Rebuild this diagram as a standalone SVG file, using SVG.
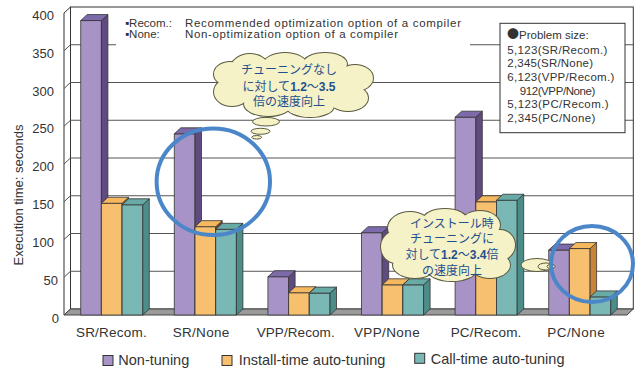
<svg xmlns="http://www.w3.org/2000/svg" width="638" height="370" viewBox="0 0 638 370">
  <style>
    .wall { fill: #ffffff; stroke: #333333; stroke-width: 1; }
    .grid { stroke: #555555; stroke-width: 1; fill: none; }
    .floor { fill: #9a9a9a; stroke: #444444; stroke-width: 1; }
    .edge { stroke: #333333; stroke-width: 0.8; stroke-linejoin: round; }
    .p-front { fill: #a893c7; }
    .p-side { fill: #5f4b80; }
    .p-top { fill: #7d6aab; }
    .o-front { fill: #f7c06f; }
    .o-side { fill: #c9843a; }
    .o-top { fill: #f5b85e; }
    .t-front { fill: #79b8b4; }
    .t-side { fill: #4d8d89; }
    .t-top { fill: #68aaa6; }
    .axis { font-family: "Liberation Sans", Arial, sans-serif; font-size: 13px; fill: #333333; }
    .cat { font-family: "Liberation Sans", Arial, sans-serif; font-size: 13.5px; fill: #333333; text-anchor: middle; }
    .legend { font-family: "Liberation Sans", Arial, sans-serif; font-size: 14.5px; fill: #333333; }
    .note { font-family: "Liberation Sans", Arial, sans-serif; font-size: 11.5px; fill: #333333; }
    .box { font-family: "Liberation Sans", Arial, sans-serif; font-size: 11.5px; fill: #333333; }
    .dot { font-family: "Noto Sans CJK JP", sans-serif; font-size: 12px; }
    .cloud-line { fill: #f4f2c6; stroke: #5a5a40; stroke-width: 2; }
    .cloud-fill { fill: #f4f2c6; }
    .bubble { fill: #f4f2c6; stroke: #5a5a40; stroke-width: 1; }
    .ctext { font-family: "Noto Sans CJK JP", "Liberation Sans", sans-serif; font-size: 12px; fill: #1f4f8f; text-anchor: middle; }
    .ctext .num { font-family: "Liberation Sans", Arial, sans-serif; font-weight: bold; }
    .ring { fill: none; stroke: #4a86c8; stroke-width: 4; }
  </style>

  <!-- chart frame: back wall, left wall, gridlines -->
  <g id="frame">
    <rect class="wall" x="70.5" y="7" width="562.8" height="302"/>
    <polygon class="wall" points="64,13 70.5,7 70.5,309 64,315"/>
    <g class="grid">
      <line x1="70.5" y1="271.25" x2="633.3" y2="271.25"/>
      <line x1="70.5" y1="233.5" x2="633.3" y2="233.5"/>
      <line x1="70.5" y1="195.75" x2="633.3" y2="195.75"/>
      <line x1="70.5" y1="158" x2="633.3" y2="158"/>
      <line x1="70.5" y1="120.25" x2="633.3" y2="120.25"/>
      <line x1="70.5" y1="82.5" x2="633.3" y2="82.5"/>
      <line x1="70.5" y1="44.75" x2="633.3" y2="44.75"/>
      <line x1="64" y1="277.25" x2="70.5" y2="271.25"/>
      <line x1="64" y1="239.5" x2="70.5" y2="233.5"/>
      <line x1="64" y1="201.75" x2="70.5" y2="195.75"/>
      <line x1="64" y1="164" x2="70.5" y2="158"/>
      <line x1="64" y1="126.25" x2="70.5" y2="120.25"/>
      <line x1="64" y1="88.5" x2="70.5" y2="82.5"/>
      <line x1="64" y1="50.75" x2="70.5" y2="44.75"/>
    </g>
    <polygon class="floor" points="64,315 627,315 633.3,309 70.5,309"/>
  </g>

  <!-- y axis -->
  <g id="y-axis" class="axis">
    <text x="54" y="19.7" text-anchor="end">400</text>
    <text x="54" y="57.6" text-anchor="end">350</text>
    <text x="54" y="95.5" text-anchor="end">300</text>
    <text x="54" y="133.4" text-anchor="end">250</text>
    <text x="54" y="171.3" text-anchor="end">200</text>
    <text x="54" y="209.2" text-anchor="end">150</text>
    <text x="54" y="247.1" text-anchor="end">100</text>
    <text x="58" y="285" text-anchor="end">50</text>
    <text x="59" y="322.9" text-anchor="end">0</text>
    <text transform="translate(23,195) rotate(-90)" text-anchor="middle">Execution time: seconds</text>
  </g>

  <!-- bars -->
  <g id="bars" class="edge">
    <g id="sr-recom">
      <rect class="p-front" x="80.7" y="20.55" width="20.7" height="294.45"/>
      <polygon class="p-side" points="101.4,20.55 107.9,14.55 107.9,309 101.4,315"/>
      <polygon class="p-top" points="80.7,20.55 87.2,14.55 107.9,14.55 101.4,20.55"/>
      <rect class="o-front" x="101.4" y="203.26" width="20.7" height="111.74"/>
      <polygon class="o-side" points="122.1,203.26 128.6,197.26 128.6,309 122.1,315"/>
      <polygon class="o-top" points="101.4,203.26 107.9,197.26 128.6,197.26 122.1,203.26"/>
      <rect class="t-front" x="122.1" y="204.77" width="20.7" height="110.23"/>
      <polygon class="t-side" points="142.8,204.77 149.3,198.77 149.3,309 142.8,315"/>
      <polygon class="t-top" points="122.1,204.77 128.6,198.77 149.3,198.77 142.8,204.77"/>
    </g>
    <g id="sr-none">
      <rect class="p-front" x="174.3" y="133.8" width="20.7" height="181.2"/>
      <polygon class="p-side" points="195,133.8 201.5,127.8 201.5,309 195,315"/>
      <polygon class="p-top" points="174.3,133.8 180.8,127.8 201.5,127.8 195,133.8"/>
      <rect class="o-front" x="195" y="226.66" width="20.7" height="88.34"/>
      <polygon class="o-side" points="215.7,226.66 222.2,220.66 222.2,309 215.7,315" style="fill:#8e3a22"/>
      <polygon class="o-top" points="195,226.66 201.5,220.66 222.2,220.66 215.7,226.66"/>
      <rect class="t-front" x="215.7" y="229.31" width="20.7" height="85.69"/>
      <polygon class="t-side" points="236.4,229.31 242.9,223.31 242.9,309 236.4,315"/>
      <polygon class="t-top" points="215.7,229.31 222.2,223.31 242.9,223.31 236.4,229.31"/>
    </g>
    <g id="vpp-recom">
      <rect class="p-front" x="267.9" y="276.72" width="20.7" height="38.28"/>
      <polygon class="p-side" points="288.6,276.72 295.1,270.72 295.1,309 288.6,315"/>
      <polygon class="p-top" points="267.9,276.72 274.4,270.72 295.1,270.72 288.6,276.72"/>
      <rect class="o-front" x="288.6" y="292.73" width="20.7" height="22.27"/>
      <polygon class="o-side" points="309.3,292.73 315.8,286.73 315.8,309 309.3,315"/>
      <polygon class="o-top" points="288.6,292.73 295.1,286.73 315.8,286.73 309.3,292.73"/>
      <rect class="t-front" x="309.3" y="293.1" width="20.7" height="21.9"/>
      <polygon class="t-side" points="330,293.1 336.5,287.1 336.5,309 330,315"/>
      <polygon class="t-top" points="309.3,293.1 315.8,287.1 336.5,287.1 330,293.1"/>
    </g>
    <g id="vpp-none">
      <rect class="p-front" x="361.5" y="232.7" width="20.7" height="82.3"/>
      <polygon class="p-side" points="382.2,232.7 388.7,226.7 388.7,309 382.2,315"/>
      <polygon class="p-top" points="361.5,232.7 368,226.7 388.7,226.7 382.2,232.7"/>
      <rect class="o-front" x="382.2" y="284.8" width="20.7" height="30.2"/>
      <polygon class="o-side" points="402.9,284.8 409.4,278.8 409.4,309 402.9,315"/>
      <polygon class="o-top" points="382.2,284.8 388.7,278.8 409.4,278.8 402.9,284.8"/>
      <rect class="t-front" x="402.9" y="284.8" width="20.7" height="30.2"/>
      <polygon class="t-side" points="423.6,284.8 430.1,278.8 430.1,309 423.6,315"/>
      <polygon class="t-top" points="402.9,284.8 409.4,278.8 430.1,278.8 423.6,284.8"/>
    </g>
    <g id="pc-recom">
      <rect class="p-front" x="455.1" y="117.19" width="20.7" height="197.81"/>
      <polygon class="p-side" points="475.8,117.19 482.3,111.19 482.3,309 475.8,315"/>
      <polygon class="p-top" points="455.1,117.19 461.6,111.19 482.3,111.19 475.8,117.19"/>
      <rect class="o-front" x="475.8" y="201.75" width="20.7" height="113.25"/>
      <polygon class="o-side" points="496.5,201.75 503,195.75 503,309 496.5,315"/>
      <polygon class="o-top" points="475.8,201.75 482.3,195.75 503,195.75 496.5,201.75"/>
      <rect class="t-front" x="496.5" y="200.24" width="20.7" height="114.76"/>
      <polygon class="t-side" points="517.2,200.24 523.7,194.24 523.7,309 517.2,315"/>
      <polygon class="t-top" points="496.5,200.24 503,194.24 523.7,194.24 517.2,200.24"/>
    </g>
    <g id="pc-none">
      <rect class="p-front" x="548.7" y="250.07" width="20.7" height="64.93"/>
      <polygon class="p-side" points="569.4,250.07 575.9,244.07 575.9,309 569.4,315"/>
      <polygon class="p-top" points="548.7,250.07 555.2,244.07 575.9,244.07 569.4,250.07"/>
      <rect class="o-front" x="569.4" y="248.56" width="20.7" height="66.44"/>
      <polygon class="o-side" points="590.1,248.56 596.6,242.56 596.6,309 590.1,315"/>
      <polygon class="o-top" points="569.4,248.56 575.9,242.56 596.6,242.56 590.1,248.56"/>
      <rect class="t-front" x="590.1" y="296.88" width="20.7" height="18.12"/>
      <polygon class="t-side" points="610.8,296.88 617.3,290.88 617.3,309 610.8,315"/>
      <polygon class="t-top" points="590.1,296.88 596.6,290.88 617.3,290.88 610.8,296.88"/>
    </g>
  </g>

  <!-- category labels -->
  <g id="x-axis" class="cat">
    <text x="111.3" y="336.5" textLength="70.7" lengthAdjust="spacing">SR/Recom.</text>
    <text x="201" y="336.5" textLength="56.7" lengthAdjust="spacing">SR/None</text>
    <text x="295.7" y="336.5" textLength="78" lengthAdjust="spacing">VPP/Recom.</text>
    <text x="386.8" y="336.5" textLength="65.7" lengthAdjust="spacing">VPP/None</text>
    <text x="486" y="336.5" textLength="70.7" lengthAdjust="spacing">PC/Recom.</text>
    <text x="576" y="336.5" textLength="57.3" lengthAdjust="spacing">PC/None</text>
  </g>

  <!-- option notes -->
  <g id="notes" class="note">
    <rect x="116" y="11" width="354" height="36" fill="#ffffff"/>
    <text><tspan x="125" y="26.5">▪Recom.:</tspan><tspan x="185" y="26.5" textLength="276" lengthAdjust="spacing">Recommended optimization option of a compiler</tspan><tspan x="125" y="37.8">▪None:</tspan><tspan x="185" y="37.8" textLength="213" lengthAdjust="spacing">Non-optimization option of a compiler</tspan></text>
  </g>

  <!-- problem sizes -->
  <g id="problem-size" class="box">
    <rect x="500" y="23.3" width="125" height="109.4" fill="#ffffff" stroke="#333333" stroke-width="1"/>
    <text><tspan x="507" y="38.5"><tspan class="dot">●</tspan>Problem size:</tspan><tspan x="507.3" y="53.5" textLength="100" lengthAdjust="spacing">5,123(SR/Recom.)</tspan><tspan x="507.3" y="67.2" textLength="85.7" lengthAdjust="spacing">2,345(SR/None)</tspan><tspan x="507.3" y="80.9" textLength="107" lengthAdjust="spacing">6,123(VPP/Recom.)</tspan><tspan x="519.7" y="94.6" textLength="75.7" lengthAdjust="spacing">912(VPP/None)</tspan><tspan x="507.3" y="108.3" textLength="101.3" lengthAdjust="spacing">5,123(PC/Recom.)</tspan><tspan x="507.3" y="122" textLength="88" lengthAdjust="spacing">2,345(PC/None)</tspan></text>
  </g>

  <!-- callout: no tuning vs. tuned -->
  <g id="cloud-none">
    <g class="cloud-line">
      <ellipse cx="250" cy="70" rx="20" ry="16"/>
      <ellipse cx="285" cy="65" rx="22" ry="12"/>
      <ellipse cx="325" cy="64" rx="22" ry="11"/>
      <ellipse cx="355" cy="78" rx="18" ry="13"/>
      <ellipse cx="348" cy="98" rx="20" ry="13"/>
      <ellipse cx="310" cy="106" rx="24" ry="11"/>
      <ellipse cx="268" cy="104" rx="24" ry="12"/>
      <ellipse cx="232" cy="92" rx="18" ry="14"/>
      <ellipse cx="230" cy="74" rx="16" ry="12"/>
    </g>
    <g class="cloud-fill">
      <ellipse cx="250" cy="70" rx="20" ry="16"/>
      <ellipse cx="285" cy="65" rx="22" ry="12"/>
      <ellipse cx="325" cy="64" rx="22" ry="11"/>
      <ellipse cx="355" cy="78" rx="18" ry="13"/>
      <ellipse cx="348" cy="98" rx="20" ry="13"/>
      <ellipse cx="310" cy="106" rx="24" ry="11"/>
      <ellipse cx="268" cy="104" rx="24" ry="12"/>
      <ellipse cx="232" cy="92" rx="18" ry="14"/>
      <ellipse cx="230" cy="74" rx="16" ry="12"/>
      <ellipse cx="292" cy="85" rx="62" ry="24"/>
    </g>
    <ellipse class="bubble" cx="266" cy="121.7" rx="13.5" ry="4.3"/>
    <ellipse class="bubble" cx="260.5" cy="131.3" rx="9.5" ry="3"/>
    <ellipse class="bubble" cx="256.7" cy="137.3" rx="5" ry="1.8"/>
    <text class="ctext"><tspan x="289" y="74">チューニングなし</tspan><tspan x="289" y="90.5">に対して<tspan class="num">1.2</tspan>〜<tspan class="num">3.5</tspan></tspan><tspan x="289" y="106">倍の速度向上</tspan></text>
  </g>

  <!-- callout: install-time tuning vs. call-time tuning -->
  <g id="cloud-install">
    <g class="cloud-line">
      <ellipse cx="410" cy="228" rx="22" ry="16"/>
      <ellipse cx="445" cy="220" rx="22" ry="11"/>
      <ellipse cx="480" cy="225" rx="20" ry="14"/>
      <ellipse cx="500" cy="245" rx="15" ry="15"/>
      <ellipse cx="490" cy="265" rx="20" ry="13"/>
      <ellipse cx="452" cy="270" rx="24" ry="11"/>
      <ellipse cx="415" cy="265" rx="22" ry="13"/>
      <ellipse cx="396" cy="247" rx="15" ry="16"/>
    </g>
    <g class="cloud-fill">
      <ellipse cx="410" cy="228" rx="22" ry="16"/>
      <ellipse cx="445" cy="220" rx="22" ry="11"/>
      <ellipse cx="480" cy="225" rx="20" ry="14"/>
      <ellipse cx="500" cy="245" rx="15" ry="15"/>
      <ellipse cx="490" cy="265" rx="20" ry="13"/>
      <ellipse cx="452" cy="270" rx="24" ry="11"/>
      <ellipse cx="415" cy="265" rx="22" ry="13"/>
      <ellipse cx="396" cy="247" rx="15" ry="16"/>
      <ellipse cx="448" cy="246" rx="52" ry="24"/>
    </g>
    <ellipse class="bubble" cx="537" cy="265" rx="16" ry="6.5"/>
    <ellipse class="bubble" cx="546" cy="266.5" rx="8" ry="3.5"/>
    <ellipse class="bubble" cx="551" cy="266.5" rx="4" ry="2"/>
    <text class="ctext"><tspan x="452" y="227.5">インストール時</tspan><tspan x="452" y="243">チューニングに</tspan><tspan x="452" y="259">対して<tspan class="num">1.2</tspan>〜<tspan class="num">3.4</tspan>倍</tspan><tspan x="452" y="274.5">の速度向上</tspan></text>
  </g>

  <!-- highlight rings -->
  <g id="highlights">
    <ellipse class="ring" cx="213.3" cy="181.7" rx="56.7" ry="53.3"/>
    <ellipse class="ring" cx="592" cy="264" rx="41" ry="38"/>
  </g>

  <!-- legend -->
  <g id="legend" class="legend">
    <rect x="103" y="355.5" width="10" height="10" class="p-front" stroke="#333333" stroke-width="1"/>
    <text x="118.3" y="365.3">Non-tuning</text>
    <rect x="222" y="355.5" width="10" height="10" class="o-front" stroke="#333333" stroke-width="1"/>
    <text x="238.7" y="365.3">Install-time auto-tuning</text>
    <rect x="414.7" y="353.3" width="10" height="10" class="t-front" stroke="#333333" stroke-width="1"/>
    <text x="430.7" y="363.6">Call-time auto-tuning</text>
  </g>
</svg>
